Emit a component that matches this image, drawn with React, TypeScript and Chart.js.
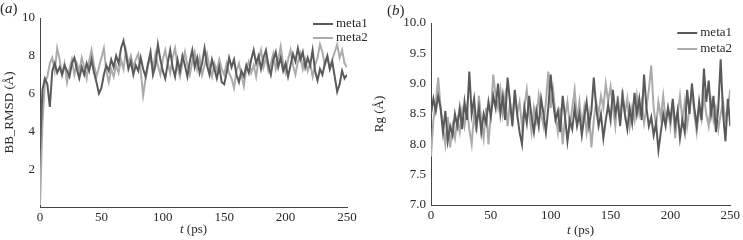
import React, { useEffect, useRef } from "react";
import { Chart, registerables } from "chart.js";

Chart.register(...registerables);

const SERIES_NAMES = ["meta1", "meta2"];
const SERIES_COLORS = ["#5a5a5a", "#ababab"];
const X_TICKS = [0, 50, 100, 150, 200, 250];
const TIME_STEP_PS = 2;

const RMSD_META1 = [
  3.0, 6.2, 6.8, 6.5, 5.3, 7.2, 7.6, 7.1, 7.4, 7.0, 7.5, 7.2, 6.9, 7.6, 7.9, 7.3, 6.8, 7.4, 7.0, 7.6,
  7.2, 7.8, 7.1, 6.6, 6.0, 6.3, 7.0, 7.5, 7.2, 7.8, 7.4, 8.0, 7.6, 8.4, 8.8, 8.1, 7.3, 7.7, 7.0, 7.5,
  7.2, 7.9, 7.3, 6.9, 7.6, 8.2, 7.0, 7.5, 8.6, 7.8, 7.2, 6.8, 7.6, 8.3, 7.4, 6.9, 7.8, 7.2, 8.0, 7.5,
  6.9, 7.7, 8.3, 7.4, 7.9, 7.1, 7.6, 8.4, 7.5, 7.0, 7.8, 7.3, 6.8, 7.4, 6.6, 6.5, 7.1, 7.9, 7.4, 7.8,
  7.0, 6.6, 7.2, 6.9, 7.5, 7.1, 7.8, 8.3, 7.6, 8.0, 7.3, 7.9, 8.3, 7.5, 7.0, 7.8, 8.2, 7.4, 7.9, 7.2,
  7.6, 6.9, 7.5, 8.1, 7.7, 8.4, 7.8, 8.2, 7.4, 7.9, 7.5, 8.3, 7.2, 6.7, 7.3, 7.0, 7.6, 8.0, 7.3, 7.7,
  6.9, 6.1, 6.5, 7.2, 6.8, 7.0,
];

const RMSD_META2 = [
  0.1, 4.5, 6.6, 6.9, 7.6, 7.9, 7.2, 8.4, 7.8, 7.0, 7.6, 6.6, 7.3, 7.8, 7.0, 7.6, 7.2, 7.9, 7.4, 6.8,
  7.7, 8.3, 7.5, 6.9, 7.4, 7.9, 8.4, 7.2, 6.6, 7.3, 6.9, 7.5, 7.1, 7.8, 7.3, 8.3, 7.6, 8.0, 7.4, 7.8,
  8.1, 7.2, 5.9, 6.8, 7.5, 7.9, 7.3, 8.1, 7.5, 7.0, 7.8, 8.3, 7.6, 7.1, 7.9, 8.4, 7.4, 6.9, 7.6, 8.2,
  7.5, 7.0, 7.7, 8.2, 7.3, 7.9, 7.0, 7.5, 8.1, 7.4, 6.9, 7.6, 7.2, 7.8, 7.3, 7.0, 7.6, 7.1, 6.8, 6.3,
  7.2, 7.6, 7.0, 6.4, 7.3, 7.7, 7.1, 7.5, 6.9, 7.8, 8.3, 7.4, 7.9, 7.2, 7.6, 8.1, 7.3, 7.8, 8.5, 7.6,
  7.1, 7.8, 8.3, 7.5, 7.0, 7.7, 8.1, 7.3, 7.8, 7.2, 7.6, 6.9, 7.5, 7.9, 8.6, 8.2, 7.5, 7.9, 7.3, 7.8,
  8.2, 8.6, 7.9, 8.3, 7.6, 7.4,
];

const RG_META1 = [
  8.5, 8.75, 8.55, 8.8, 8.6, 8.2, 8.55, 8.05, 8.3, 8.15, 8.5, 8.3, 8.6, 8.25, 8.7, 8.4, 9.2, 8.5, 8.75, 8.3,
  8.6, 8.2, 8.5, 8.35, 8.7, 8.45, 8.8, 8.6, 9.0, 8.5, 8.8, 8.4, 9.1, 8.7, 8.3, 8.9, 8.5, 8.2, 8.0, 8.6,
  8.35, 8.8, 8.45, 8.2, 8.55, 8.3, 8.75, 8.5, 8.2, 8.6, 9.15, 8.7, 8.4, 8.55, 8.2, 8.8, 8.45, 8.05, 8.4, 8.25,
  8.6, 8.3, 8.5, 8.15, 8.45, 8.7, 8.3, 8.55, 9.1, 8.6, 8.3, 8.5, 8.1, 8.4, 8.65, 8.4, 8.9, 8.5, 8.7, 8.3,
  8.8, 8.5, 8.25, 8.6, 8.35, 8.85, 8.5, 8.75, 8.4, 9.15, 8.6, 8.3, 8.45, 8.15, 8.35, 7.9, 8.2, 8.5, 8.3, 8.6,
  8.4, 8.75, 8.3, 8.55, 8.1, 8.4, 8.2, 8.9, 8.5, 9.0, 8.6, 8.3, 8.7, 8.4, 9.25, 8.7, 9.05, 8.5, 8.8, 8.2,
  8.6, 9.4, 8.5, 8.05, 8.75, 8.3,
];

const RG_META2 = [
  7.8, 8.4, 8.7, 9.1, 8.6, 8.3, 8.0, 8.45, 7.95, 8.3, 8.1, 8.4, 8.2, 8.55, 8.3, 8.6, 8.25, 8.0, 8.5, 8.2,
  8.8, 8.4, 8.1, 8.6, 8.0, 8.5, 9.15, 8.8, 8.6, 8.9, 8.5, 8.8, 8.3, 8.7, 8.4, 8.85, 8.5, 8.7, 8.3, 8.6,
  8.9, 8.5, 8.2, 8.6, 8.4, 8.8, 8.5, 8.3, 8.7, 9.2, 8.6, 8.9, 8.5, 8.2, 8.6, 8.0, 8.45, 8.7, 8.3, 8.6,
  8.9, 8.4, 8.7, 8.3, 8.6, 8.2, 8.5, 7.95, 8.4, 8.7, 8.5, 8.8, 8.6, 9.0, 8.7, 8.95, 8.6, 8.3, 8.8, 8.4,
  8.9, 8.5, 8.75, 8.3, 8.6, 8.4, 8.8, 8.5, 8.7, 8.35, 8.6, 8.9, 9.3, 8.6, 8.3, 8.7, 8.45, 8.8, 8.4, 8.6,
  8.3, 8.7, 8.1, 8.5, 8.8, 8.4, 8.7, 8.3, 8.6, 8.9, 8.5, 8.2, 8.6, 8.4, 8.8, 8.5, 8.3, 8.7, 8.4, 8.6,
  8.25, 8.5, 8.7, 8.4, 8.6, 8.9,
];

const FONT = "'Liberation Serif', 'Times New Roman', serif";
const TEXT_COLOR = "#2a2a2a";
const AXIS_COLOR = "#444444";

type PanelCfg = {
  panel: string;
  panelX: number;
  panelY: number;
  legendDx: number;
  legendTop: number;
  legendGap: number;
  yTitle: string;
  yMin: number;
  yMax: number;
  yStep: number;
  yDecimals: number;
  hideZero: boolean;
  series: number[][];
  padTop: number;
  padRight: number;
  yAxisWidth: number;
  xAxisHeight: number;
  xTitleY: number;
  width: number;
};

function drawMixed(ctx: CanvasRenderingContext2D, parts: [string, boolean][], x: number, y: number, size: number, center: boolean) {
  const fonts = parts.map(([, it]) => `${it ? "italic " : ""}${size}px ${FONT}`);
  let total = 0;
  parts.forEach(([t], i) => {
    ctx.font = fonts[i];
    total += ctx.measureText(t).width;
  });
  let cx = center ? x - total / 2 : x;
  parts.forEach(([t], i) => {
    ctx.font = fonts[i];
    ctx.fillText(t, cx, y);
    cx += ctx.measureText(t).width;
  });
}

function makeDecor(cfg: PanelCfg) {
  return {
    id: "decor",
    afterDraw(chart: any) {
      const ctx: CanvasRenderingContext2D = chart.ctx;
      const ca = chart.chartArea;
      ctx.save();
      ctx.fillStyle = TEXT_COLOR;
      ctx.textBaseline = "middle";
      ctx.textAlign = "left";
      drawMixed(ctx, [["(", false], [cfg.panel, true], [")", false]], cfg.panelX, cfg.panelY, 15, false);
      chart.data.datasets.forEach((ds: any, i: number) => {
        const y = ca.top + cfg.legendTop + i * cfg.legendGap;
        const x0 = ca.right + cfg.legendDx;
        ctx.strokeStyle = ds.borderColor;
        ctx.lineWidth = 2;
        ctx.beginPath();
        ctx.moveTo(x0, y);
        ctx.lineTo(x0 + 20, y);
        ctx.stroke();
        ctx.fillStyle = TEXT_COLOR;
        ctx.font = `13px ${FONT}`;
        ctx.fillText(ds.label, x0 + 23, y);
      });
      ctx.fillStyle = TEXT_COLOR;
      drawMixed(ctx, [["t", true], [" (ps)", false]], (ca.left + ca.right) / 2, cfg.xTitleY, 13, true);
      ctx.restore();
    },
  };
}

function Panel({ cfg }: { cfg: PanelCfg }) {
  const ref = useRef<HTMLCanvasElement | null>(null);
  useEffect(() => {
    if (!ref.current) return;
    const datasets = cfg.series.map((vals, si) => ({
      label: SERIES_NAMES[si],
      data: vals.map((v, i) => ({ x: i * TIME_STEP_PS, y: v })),
      borderColor: SERIES_COLORS[si],
      borderWidth: 2,
      pointRadius: 0,
      tension: 0,
      fill: false,
    }));
    const chart = new Chart(ref.current, {
      type: "line",
      data: { datasets },
      options: {
        animation: false,
        responsive: false,
        devicePixelRatio: 1,
        layout: { padding: { top: cfg.padTop, right: cfg.padRight, left: 0, bottom: 0 } },
        plugins: { legend: { display: false }, tooltip: { enabled: false } },
        scales: {
          x: {
            type: "linear",
            min: 0,
            max: 250,
            afterBuildTicks: (s: any) => {
              s.ticks = X_TICKS.map((v) => ({ value: v }));
            },
            afterFit: (s: any) => {
              s.height = cfg.xAxisHeight;
            },
            grid: { display: false, drawTicks: false },
            border: { display: true, color: AXIS_COLOR, width: 1 },
            ticks: {
              color: TEXT_COLOR,
              font: { family: FONT, size: 13 },
              padding: 3,
              maxRotation: 0,
            },
          },
          y: {
            type: "linear",
            min: cfg.yMin,
            max: cfg.yMax,
            afterFit: (s: any) => {
              s.width = cfg.yAxisWidth;
            },
            grid: { display: false, drawTicks: false },
            border: { display: true, color: AXIS_COLOR, width: 1 },
            title: {
              display: true,
              text: cfg.yTitle,
              color: TEXT_COLOR,
              font: { family: FONT, size: 13 },
              padding: { top: 2, bottom: 2 },
            },
            ticks: {
              stepSize: cfg.yStep,
              color: TEXT_COLOR,
              font: { family: FONT, size: 13 },
              padding: 5,
              callback: (v: any) => {
                const n = Number(v);
                if (cfg.hideZero && n === 0) return "";
                return n.toFixed(cfg.yDecimals);
              },
            },
          },
        },
      },
      plugins: [makeDecor(cfg)],
    } as any);
    return () => chart.destroy();
  }, [cfg]);
  return <canvas ref={ref} width={cfg.width} height={240} style={{ display: "block", width: cfg.width, height: 240 }} />;
}

const LEFT: PanelCfg = {
  panel: "a",
  panelX: 0,
  panelY: 9,
  legendDx: -34,
  legendTop: 6,
  legendGap: 14,
  yTitle: "BB_RMSD (Å)",
  yMin: 0,
  yMax: 10,
  yStep: 2,
  yDecimals: 0,
  hideZero: true,
  series: [RMSD_META1, RMSD_META2],
  padTop: 18,
  padRight: 23,
  yAxisWidth: 40,
  xAxisHeight: 33,
  xTitleY: 230,
  width: 370,
};

const RIGHT: PanelCfg = {
  panel: "b",
  panelX: 17,
  panelY: 11,
  legendDx: -53,
  legendTop: 10,
  legendGap: 16,
  yTitle: "Rg (Å)",
  yMin: 7,
  yMax: 10,
  yStep: 0.5,
  yDecimals: 1,
  hideZero: false,
  series: [RG_META1, RG_META2],
  padTop: 23,
  padRight: 10,
  yAxisWidth: 61,
  xAxisHeight: 35,
  xTitleY: 231,
  width: 373,
};

export default function App() {
  return (
    <div style={{ position: "absolute", left: 0, top: 0, width: 743, height: 240, background: "#fff", display: "flex" }}>
      <Panel cfg={LEFT} />
      <Panel cfg={RIGHT} />
    </div>
  );
}
